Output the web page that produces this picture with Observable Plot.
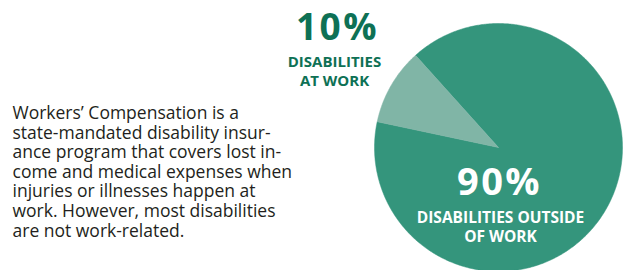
<!DOCTYPE html>
<html><head><meta charset="utf-8">
<script src="https://cdn.jsdelivr.net/npm/d3@7"></script>
<script src="https://cdn.jsdelivr.net/npm/@observablehq/plot@0.6"></script>
<style>body{margin:0;background:#fff;}</style>
</head><body><div id="chart"></div>
<script>
const categories = ["Disabilities outside of work", "Disabilities at work"];
const shares = [90, 10];
const percentLabels = ["90%", "10%"];
const captionLabels = ["DISABILITIES OUTSIDE\nOF WORK", "DISABILITIES\nAT WORK"];
const bodyLines = [
  "Workers’ Compensation is a",
  "state-mandated disability insur-",
  "ance program that covers lost in-",
  "come and medical expenses when",
  "injuries or illnesses happen at",
  "work. However, most disabilities",
  "are not work-related."
];
const sliceColors = ["#34957c", "#80b5a6"];

const W = 625, H = 270, cx = 498, cy = 147, R = 124;
const startDeg = 318;
const ux = px => (px - cx) / R;
const uy = py => (cy - py) / R;

const arcs = d3.pie().sort(null)
  .startAngle(startDeg * Math.PI / 180)
  .endAngle((startDeg + 360) * Math.PI / 180)(shares);
const pts = [];
arcs.forEach((a, i) => {
  const cat = categories[i];
  const n = Math.max(4, Math.ceil((a.endAngle - a.startAngle) / 0.01));
  pts.push({cat, x: 0, y: 0});
  for (let k = 0; k <= n; k++) {
    const t = a.startAngle + (a.endAngle - a.startAngle) * k / n;
    pts.push({cat, x: Math.sin(t), y: Math.cos(t)});
  }
  pts.push({cat, x: 0, y: 0});
});

const green = "#0e7155";
const font = "'Open Sans', 'Noto Sans', sans-serif";

const chart = Plot.plot({
  width: W, height: H, margin: 0,
  x: {domain: [ux(0), ux(W)], axis: null},
  y: {domain: [uy(H), uy(0)], axis: null},
  color: {domain: categories, range: sliceColors},
  style: {background: "white", fontFamily: font, overflow: "visible"},
  marks: [
    Plot.line(pts, {x: "x", y: "y", z: "cat", fill: "cat", stroke: "cat", strokeWidth: 0.5, curve: "linear"}),
    Plot.text([bodyLines.join("\n")], {x: ux(12), y: uy(104.5), text: d => d, textAnchor: "start", lineAnchor: "top", lineHeight: 1.12, fontSize: 17.5, fill: "#231f20"}),
    Plot.text([percentLabels[1]], {x: ux(337), y: uy(13), text: d => d, textAnchor: "middle", lineAnchor: "top", fontSize: 37, fontWeight: "bold", fill: green}),
    Plot.text([captionLabels[1]], {x: ux(334), y: uy(53.5), text: d => d, textAnchor: "middle", lineAnchor: "top", lineHeight: 1.25, fontSize: 15, fontWeight: "bold", fill: green}),
    Plot.text([percentLabels[0]], {x: ux(499), y: uy(168), text: d => d, textAnchor: "middle", lineAnchor: "top", fontSize: 38, fontWeight: "bold", fill: "white"}),
    Plot.text([captionLabels[0]], {x: ux(500), y: uy(208.5), text: d => d, textAnchor: "middle", lineAnchor: "top", lineHeight: 1.25, fontSize: 15.5, fontWeight: "bold", fill: "white"})
  ]
});
d3.select(chart).selectAll("text").filter(function() { return /%$/.test(this.textContent); })
  .style("letter-spacing", "2.5px");
document.getElementById("chart").append(chart);
</script>
</body></html>
